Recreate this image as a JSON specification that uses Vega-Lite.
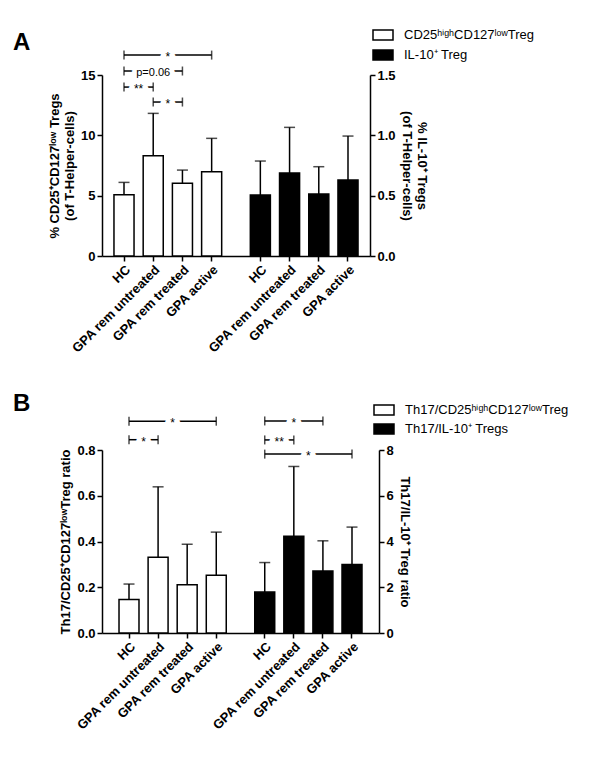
{
  "$schema": "https://vega.github.io/schema/vega-lite/v6.json",
  "padding": {"left": 13, "top": 24, "right": 5, "bottom": 5},
  "spacing": 194,
  "bounds": "flush",
  "resolve": {"scale": {"fill": "independent"}, "legend": {"fill": "independent"}},
  "config": {
    "font": "Liberation Sans",
    "view": {"stroke": null},
    "axis": {"grid": false, "domainColor": "black", "domainWidth": 1.5, "tickColor": "black", "tickWidth": 1.5, "tickSize": 5, "labelFont": "Liberation Sans", "labelFontSize": 13, "labelFontWeight": "bold", "labelColor": "black", "titleFont": "Liberation Sans", "titleFontSize": 13, "titleFontWeight": "bold", "titleColor": "black"},
    "axisX": {"labelAngle": -45, "labelAlign": "right", "labelBaseline": "top", "labelFontSize": 13, "labelPadding": 2, "labelExpr": "indexof(datum.value, '_') == 0 ? '' : split(datum.value, '|')[0]", "tickOpacity": {"condition": {"test": "indexof(datum.value, '_') == 0", "value": 0}, "value": 1}},
    "legend": {"padding": 0, "labelFont": "Liberation Sans", "labelFontSize": 13, "labelColor": "black", "labelOffset": 10, "labelLimit": 400, "rowPadding": 1, "symbolType": "M-1,-0.5H1V0.5H-1Z", "symbolSize": 400, "symbolStrokeColor": "black", "symbolStrokeWidth": 1.5},
    "title": {"font": "Liberation Sans", "fontSize": 24, "fontWeight": "bold", "color": "black"},
    "text": {"font": "Liberation Sans", "fontSize": 12, "baseline": "middle", "dy": 2},
    "bar": {"stroke": "black", "strokeWidth": 1.5, "width": {"band": 2.06}},
    "rule": {"color": "black", "strokeWidth": 1.5},
    "tick": {"color": "black", "thickness": 1.5}
  },
  "datasets": {
    "barsA": [
      {"side": "left", "series": "CD25ʰⁱᵍʰCD127ˡᵒʷTreg", "key": "HC|1", "mean": 5.08, "upper": 6.1},
      {"side": "left", "series": "CD25ʰⁱᵍʰCD127ˡᵒʷTreg", "key": "GPA rem untreated|1", "mean": 8.31, "upper": 11.82},
      {"side": "left", "series": "CD25ʰⁱᵍʰCD127ˡᵒʷTreg", "key": "GPA rem treated|1", "mean": 6.02, "upper": 7.12},
      {"side": "left", "series": "CD25ʰⁱᵍʰCD127ˡᵒʷTreg", "key": "GPA active|1", "mean": 6.99, "upper": 9.75},
      {"side": "right", "series": "IL-10⁺ Treg", "key": "HC|2", "mean": 0.505, "upper": 0.787},
      {"side": "right", "series": "IL-10⁺ Treg", "key": "GPA rem untreated|2", "mean": 0.688, "upper": 1.066},
      {"side": "right", "series": "IL-10⁺ Treg", "key": "GPA rem treated|2", "mean": 0.514, "upper": 0.74},
      {"side": "right", "series": "IL-10⁺ Treg", "key": "GPA active|2", "mean": 0.63, "upper": 0.994}
    ],
    "sigA": [
      {"start": "HC|1", "end": "GPA active|1", "level": 16.65, "label": "*"},
      {"start": "HC|1", "end": "GPA rem treated|1", "level": 15.33, "label": "p=0.06"},
      {"start": "HC|1", "end": "GPA rem untreated|1", "level": 14.0, "label": "**"},
      {"start": "GPA rem untreated|1", "end": "GPA rem treated|1", "level": 12.76, "label": "*"}
    ],
    "barsB": [
      {"side": "left", "series": "Th17/CD25ʰⁱᵍʰCD127ˡᵒʷTreg", "key": "HC|1", "mean": 0.146, "upper": 0.214},
      {"side": "left", "series": "Th17/CD25ʰⁱᵍʰCD127ˡᵒʷTreg", "key": "GPA rem untreated|1", "mean": 0.331, "upper": 0.639},
      {"side": "left", "series": "Th17/CD25ʰⁱᵍʰCD127ˡᵒʷTreg", "key": "GPA rem treated|1", "mean": 0.211, "upper": 0.388},
      {"side": "left", "series": "Th17/CD25ʰⁱᵍʰCD127ˡᵒʷTreg", "key": "GPA active|1", "mean": 0.252, "upper": 0.441},
      {"side": "right", "series": "Th17/IL-10⁺ Tregs", "key": "HC|2", "mean": 1.79, "upper": 3.08},
      {"side": "right", "series": "Th17/IL-10⁺ Tregs", "key": "GPA rem untreated|2", "mean": 4.23, "upper": 7.28},
      {"side": "right", "series": "Th17/IL-10⁺ Tregs", "key": "GPA rem treated|2", "mean": 2.71, "upper": 4.03},
      {"side": "right", "series": "Th17/IL-10⁺ Tregs", "key": "GPA active|2", "mean": 3.0, "upper": 4.63}
    ],
    "sigB": [
      {"start": "HC|1", "end": "GPA active|1", "level": 0.926, "label": "*"},
      {"start": "HC|1", "end": "GPA rem untreated|1", "level": 0.845, "label": "*"},
      {"start": "HC|2", "end": "GPA rem treated|2", "level": 0.927, "label": "*"},
      {"start": "HC|2", "end": "GPA rem untreated|2", "level": 0.844, "label": "**"},
      {"start": "HC|2", "end": "GPA active|2", "level": 0.782, "label": "*"}
    ]
  },
  "vconcat": [
    {
      "width": 268, "height": 181,
      "title": {"text": "A", "anchor": "start", "frame": "group", "dx": -89, "offset": -31},
      "resolve": {"scale": {"y": "independent"}},
      "layer": [
        {
          "layer": [
            {
              "data": {"name": "barsA"},
              "transform": [{"filter": "datum.side == 'left'"}],
              "mark": "bar",
              "encoding": {
                "x": {"field": "key", "type": "nominal", "title": null, "scale": {"type": "band", "domain": ["_l1","HC|1","_1","_2","GPA rem untreated|1","_3","_4","GPA rem treated|1","_5","_6","GPA active|1","_7","_8","_9","_10","HC|2","_11","_12","GPA rem untreated|2","_13","_14","GPA rem treated|2","_15","_16","GPA active|2","_r1"], "paddingInner": 0, "paddingOuter": 0.759}},
                "y": {"field": "mean", "type": "quantitative", "scale": {"domain": [0, 15], "nice": false},
                  "axis": {"values": [0, 5, 10, 15], "orient": "left", "title": ["% CD25⁺CD127ˡᵒʷ Tregs", "(of T-Helper-cells)"]}},
                "fill": {"field": "series", "type": "nominal", "scale": {"domain": ["CD25ʰⁱᵍʰCD127ˡᵒʷTreg", "IL-10⁺ Treg"], "range": ["white", "black"]},
                  "legend": {"orient": "none", "legendX": 270, "legendY": -51, "title": null}}
              }
            },
            {
              "data": {"name": "barsA"},
              "transform": [{"filter": "datum.side == 'left'"}],
              "mark": "rule",
              "encoding": {
                "x": {"field": "key", "type": "nominal", "title": null, "scale": {"type": "band", "domain": ["_l1","HC|1","_1","_2","GPA rem untreated|1","_3","_4","GPA rem treated|1","_5","_6","GPA active|1","_7","_8","_9","_10","HC|2","_11","_12","GPA rem untreated|2","_13","_14","GPA rem treated|2","_15","_16","GPA active|2","_r1"], "paddingInner": 0, "paddingOuter": 0.759}},
                "y": {"field": "mean", "type": "quantitative", "scale": {"domain": [0, 15], "nice": false}},
                "y2": {"field": "upper"}
              }
            },
            {
              "data": {"name": "barsA"},
              "transform": [{"filter": "datum.side == 'left'"}],
              "mark": {"type": "tick", "orient": "horizontal", "size": 11},
              "encoding": {
                "x": {"field": "key", "type": "nominal", "title": null, "scale": {"type": "band", "domain": ["_l1","HC|1","_1","_2","GPA rem untreated|1","_3","_4","GPA rem treated|1","_5","_6","GPA active|1","_7","_8","_9","_10","HC|2","_11","_12","GPA rem untreated|2","_13","_14","GPA rem treated|2","_15","_16","GPA active|2","_r1"], "paddingInner": 0, "paddingOuter": 0.759}},
                "y": {"field": "upper", "type": "quantitative", "scale": {"domain": [0, 15], "nice": false}}
              }
            },
            {
              "data": {"name": "sigA"},
              "mark": "rule",
              "encoding": {
                "x": {"field": "start", "type": "nominal", "title": null, "scale": {"type": "band", "domain": ["_l1","HC|1","_1","_2","GPA rem untreated|1","_3","_4","GPA rem treated|1","_5","_6","GPA active|1","_7","_8","_9","_10","HC|2","_11","_12","GPA rem untreated|2","_13","_14","GPA rem treated|2","_15","_16","GPA active|2","_r1"], "paddingInner": 0, "paddingOuter": 0.759}},
                "x2": {"field": "end"},
                "y": {"field": "level", "type": "quantitative", "scale": {"domain": [0, 15], "nice": false}}
              }
            },
            {
              "data": {"name": "sigA"},
              "mark": {"type": "tick", "orient": "vertical", "size": 9},
              "encoding": {
                "x": {"field": "start", "type": "nominal", "title": null, "scale": {"type": "band", "domain": ["_l1","HC|1","_1","_2","GPA rem untreated|1","_3","_4","GPA rem treated|1","_5","_6","GPA active|1","_7","_8","_9","_10","HC|2","_11","_12","GPA rem untreated|2","_13","_14","GPA rem treated|2","_15","_16","GPA active|2","_r1"], "paddingInner": 0, "paddingOuter": 0.759}},
                "y": {"field": "level", "type": "quantitative", "scale": {"domain": [0, 15], "nice": false}}
              }
            },
            {
              "data": {"name": "sigA"},
              "mark": {"type": "tick", "orient": "vertical", "size": 9},
              "encoding": {
                "x": {"field": "end", "type": "nominal", "title": null, "scale": {"type": "band", "domain": ["_l1","HC|1","_1","_2","GPA rem untreated|1","_3","_4","GPA rem treated|1","_5","_6","GPA active|1","_7","_8","_9","_10","HC|2","_11","_12","GPA rem untreated|2","_13","_14","GPA rem treated|2","_15","_16","GPA active|2","_r1"], "paddingInner": 0, "paddingOuter": 0.759}},
                "y": {"field": "level", "type": "quantitative", "scale": {"domain": [0, 15], "nice": false}}
              }
            },
            {
              "data": {"name": "sigA"},
              "transform": [{"filter": "indexof(['HC|1','GPA rem untreated|1','GPA rem treated|1','GPA active|1','HC|2','GPA rem untreated|2','GPA rem treated|2','GPA active|2'], datum.end) - indexof(['HC|1','GPA rem untreated|1','GPA rem treated|1','GPA active|1','HC|2','GPA rem untreated|2','GPA rem treated|2','GPA active|2'], datum.start) == 1"}],
              "layer": [
                {"mark": {"type": "text", "fill": "white", "stroke": "white", "strokeWidth": 9}},
                {"mark": {"type": "text", "fill": "black"}}
              ],
              "encoding": {
                "x": {"field": "start", "type": "nominal", "title": null, "bandPosition": 2.0, "scale": {"type": "band", "domain": ["_l1","HC|1","_1","_2","GPA rem untreated|1","_3","_4","GPA rem treated|1","_5","_6","GPA active|1","_7","_8","_9","_10","HC|2","_11","_12","GPA rem untreated|2","_13","_14","GPA rem treated|2","_15","_16","GPA active|2","_r1"], "paddingInner": 0, "paddingOuter": 0.759}},
                "y": {"field": "level", "type": "quantitative", "scale": {"domain": [0, 15], "nice": false}},
                "text": {"field": "label"}
              }
            },
            {
              "data": {"name": "sigA"},
              "transform": [{"filter": "indexof(['HC|1','GPA rem untreated|1','GPA rem treated|1','GPA active|1','HC|2','GPA rem untreated|2','GPA rem treated|2','GPA active|2'], datum.end) - indexof(['HC|1','GPA rem untreated|1','GPA rem treated|1','GPA active|1','HC|2','GPA rem untreated|2','GPA rem treated|2','GPA active|2'], datum.start) == 2"}],
              "layer": [
                {"mark": {"type": "text", "fill": "white", "stroke": "white", "strokeWidth": 9, "fontSize": 11}},
                {"mark": {"type": "text", "fill": "black", "fontSize": 11}}
              ],
              "encoding": {
                "x": {"field": "start", "type": "nominal", "title": null, "bandPosition": 3.5, "scale": {"type": "band", "domain": ["_l1","HC|1","_1","_2","GPA rem untreated|1","_3","_4","GPA rem treated|1","_5","_6","GPA active|1","_7","_8","_9","_10","HC|2","_11","_12","GPA rem untreated|2","_13","_14","GPA rem treated|2","_15","_16","GPA active|2","_r1"], "paddingInner": 0, "paddingOuter": 0.759}},
                "y": {"field": "level", "type": "quantitative", "scale": {"domain": [0, 15], "nice": false}},
                "text": {"field": "label"}
              }
            },
            {
              "data": {"name": "sigA"},
              "transform": [{"filter": "indexof(['HC|1','GPA rem untreated|1','GPA rem treated|1','GPA active|1','HC|2','GPA rem untreated|2','GPA rem treated|2','GPA active|2'], datum.end) - indexof(['HC|1','GPA rem untreated|1','GPA rem treated|1','GPA active|1','HC|2','GPA rem untreated|2','GPA rem treated|2','GPA active|2'], datum.start) == 3"}],
              "layer": [
                {"mark": {"type": "text", "fill": "white", "stroke": "white", "strokeWidth": 9}},
                {"mark": {"type": "text", "fill": "black"}}
              ],
              "encoding": {
                "x": {"field": "start", "type": "nominal", "title": null, "bandPosition": 5.0, "scale": {"type": "band", "domain": ["_l1","HC|1","_1","_2","GPA rem untreated|1","_3","_4","GPA rem treated|1","_5","_6","GPA active|1","_7","_8","_9","_10","HC|2","_11","_12","GPA rem untreated|2","_13","_14","GPA rem treated|2","_15","_16","GPA active|2","_r1"], "paddingInner": 0, "paddingOuter": 0.759}},
                "y": {"field": "level", "type": "quantitative", "scale": {"domain": [0, 15], "nice": false}},
                "text": {"field": "label"}
              }
            }
          ]
        },
        {
          "layer": [
            {
              "data": {"name": "barsA"},
              "transform": [{"filter": "datum.side == 'right'"}],
              "mark": "bar",
              "encoding": {
                "x": {"field": "key", "type": "nominal", "title": null, "scale": {"type": "band", "domain": ["_l1","HC|1","_1","_2","GPA rem untreated|1","_3","_4","GPA rem treated|1","_5","_6","GPA active|1","_7","_8","_9","_10","HC|2","_11","_12","GPA rem untreated|2","_13","_14","GPA rem treated|2","_15","_16","GPA active|2","_r1"], "paddingInner": 0, "paddingOuter": 0.759}},
                "y": {"field": "mean", "type": "quantitative", "scale": {"domain": [0, 1.5], "nice": false},
                  "axis": {"values": [0, 0.5, 1, 1.5], "format": ".1f", "orient": "right", "title": ["% IL-10⁺ Tregs", "(of T-Helper-cells)"]}},
                "fill": {"field": "series", "type": "nominal", "scale": {"domain": ["CD25ʰⁱᵍʰCD127ˡᵒʷTreg", "IL-10⁺ Treg"], "range": ["white", "black"]},
                  "legend": {"orient": "none", "legendX": 270, "legendY": -51, "title": null}}
              }
            },
            {
              "data": {"name": "barsA"},
              "transform": [{"filter": "datum.side == 'right'"}],
              "mark": "rule",
              "encoding": {
                "x": {"field": "key", "type": "nominal", "title": null, "scale": {"type": "band", "domain": ["_l1","HC|1","_1","_2","GPA rem untreated|1","_3","_4","GPA rem treated|1","_5","_6","GPA active|1","_7","_8","_9","_10","HC|2","_11","_12","GPA rem untreated|2","_13","_14","GPA rem treated|2","_15","_16","GPA active|2","_r1"], "paddingInner": 0, "paddingOuter": 0.759}},
                "y": {"field": "mean", "type": "quantitative", "scale": {"domain": [0, 1.5], "nice": false}},
                "y2": {"field": "upper"}
              }
            },
            {
              "data": {"name": "barsA"},
              "transform": [{"filter": "datum.side == 'right'"}],
              "mark": {"type": "tick", "orient": "horizontal", "size": 11},
              "encoding": {
                "x": {"field": "key", "type": "nominal", "title": null, "scale": {"type": "band", "domain": ["_l1","HC|1","_1","_2","GPA rem untreated|1","_3","_4","GPA rem treated|1","_5","_6","GPA active|1","_7","_8","_9","_10","HC|2","_11","_12","GPA rem untreated|2","_13","_14","GPA rem treated|2","_15","_16","GPA active|2","_r1"], "paddingInner": 0, "paddingOuter": 0.759}},
                "y": {"field": "upper", "type": "quantitative", "scale": {"domain": [0, 1.5], "nice": false}}
              }
            }
          ]
        }
      ]
    },
    {
      "width": 277, "height": 183,
      "title": {"text": "B", "anchor": "start", "frame": "group", "dx": -89, "offset": -17},
      "resolve": {"scale": {"y": "independent"}},
      "layer": [
        {
          "layer": [
            {
              "data": {"name": "barsB"},
              "transform": [{"filter": "datum.side == 'left'"}],
              "mark": "bar",
              "encoding": {
                "x": {"field": "key", "type": "nominal", "title": null, "scale": {"type": "band", "domain": ["_l1","_l2","HC|1","_1","_2","GPA rem untreated|1","_3","_4","GPA rem treated|1","_5","_6","GPA active|1","_7","_8","_9","_10","HC|2","_11","_12","GPA rem untreated|2","_13","_14","GPA rem treated|2","_15","_16","GPA active|2","_r1","_r2"], "paddingInner": 0, "paddingOuter": 0.285}},
                "y": {"field": "mean", "type": "quantitative", "scale": {"domain": [0, 0.8], "nice": false},
                  "axis": {"values": [0, 0.2, 0.4, 0.6, 0.8], "format": ".1f", "orient": "left", "title": "Th17/CD25⁺CD127ˡᵒʷTreg ratio"}},
                "fill": {"field": "series", "type": "nominal", "scale": {"domain": ["Th17/CD25ʰⁱᵍʰCD127ˡᵒʷTreg", "Th17/IL-10⁺ Tregs"], "range": ["white", "black"]},
                  "legend": {"orient": "none", "legendX": 271, "legendY": -51, "title": null, "rowPadding": -2}}
              }
            },
            {
              "data": {"name": "barsB"},
              "transform": [{"filter": "datum.side == 'left'"}],
              "mark": "rule",
              "encoding": {
                "x": {"field": "key", "type": "nominal", "title": null, "scale": {"type": "band", "domain": ["_l1","_l2","HC|1","_1","_2","GPA rem untreated|1","_3","_4","GPA rem treated|1","_5","_6","GPA active|1","_7","_8","_9","_10","HC|2","_11","_12","GPA rem untreated|2","_13","_14","GPA rem treated|2","_15","_16","GPA active|2","_r1","_r2"], "paddingInner": 0, "paddingOuter": 0.285}},
                "y": {"field": "mean", "type": "quantitative", "scale": {"domain": [0, 0.8], "nice": false}},
                "y2": {"field": "upper"}
              }
            },
            {
              "data": {"name": "barsB"},
              "transform": [{"filter": "datum.side == 'left'"}],
              "mark": {"type": "tick", "orient": "horizontal", "size": 11},
              "encoding": {
                "x": {"field": "key", "type": "nominal", "title": null, "scale": {"type": "band", "domain": ["_l1","_l2","HC|1","_1","_2","GPA rem untreated|1","_3","_4","GPA rem treated|1","_5","_6","GPA active|1","_7","_8","_9","_10","HC|2","_11","_12","GPA rem untreated|2","_13","_14","GPA rem treated|2","_15","_16","GPA active|2","_r1","_r2"], "paddingInner": 0, "paddingOuter": 0.285}},
                "y": {"field": "upper", "type": "quantitative", "scale": {"domain": [0, 0.8], "nice": false}}
              }
            },
            {
              "data": {"name": "sigB"},
              "mark": "rule",
              "encoding": {
                "x": {"field": "start", "type": "nominal", "title": null, "scale": {"type": "band", "domain": ["_l1","_l2","HC|1","_1","_2","GPA rem untreated|1","_3","_4","GPA rem treated|1","_5","_6","GPA active|1","_7","_8","_9","_10","HC|2","_11","_12","GPA rem untreated|2","_13","_14","GPA rem treated|2","_15","_16","GPA active|2","_r1","_r2"], "paddingInner": 0, "paddingOuter": 0.285}},
                "x2": {"field": "end"},
                "y": {"field": "level", "type": "quantitative", "scale": {"domain": [0, 0.8], "nice": false}}
              }
            },
            {
              "data": {"name": "sigB"},
              "mark": {"type": "tick", "orient": "vertical", "size": 9},
              "encoding": {
                "x": {"field": "start", "type": "nominal", "title": null, "scale": {"type": "band", "domain": ["_l1","_l2","HC|1","_1","_2","GPA rem untreated|1","_3","_4","GPA rem treated|1","_5","_6","GPA active|1","_7","_8","_9","_10","HC|2","_11","_12","GPA rem untreated|2","_13","_14","GPA rem treated|2","_15","_16","GPA active|2","_r1","_r2"], "paddingInner": 0, "paddingOuter": 0.285}},
                "y": {"field": "level", "type": "quantitative", "scale": {"domain": [0, 0.8], "nice": false}}
              }
            },
            {
              "data": {"name": "sigB"},
              "mark": {"type": "tick", "orient": "vertical", "size": 9},
              "encoding": {
                "x": {"field": "end", "type": "nominal", "title": null, "scale": {"type": "band", "domain": ["_l1","_l2","HC|1","_1","_2","GPA rem untreated|1","_3","_4","GPA rem treated|1","_5","_6","GPA active|1","_7","_8","_9","_10","HC|2","_11","_12","GPA rem untreated|2","_13","_14","GPA rem treated|2","_15","_16","GPA active|2","_r1","_r2"], "paddingInner": 0, "paddingOuter": 0.285}},
                "y": {"field": "level", "type": "quantitative", "scale": {"domain": [0, 0.8], "nice": false}}
              }
            },
            {
              "data": {"name": "sigB"},
              "transform": [{"filter": "indexof(['HC|1','GPA rem untreated|1','GPA rem treated|1','GPA active|1','HC|2','GPA rem untreated|2','GPA rem treated|2','GPA active|2'], datum.end) - indexof(['HC|1','GPA rem untreated|1','GPA rem treated|1','GPA active|1','HC|2','GPA rem untreated|2','GPA rem treated|2','GPA active|2'], datum.start) == 1"}],
              "layer": [
                {"mark": {"type": "text", "fill": "white", "stroke": "white", "strokeWidth": 9}},
                {"mark": {"type": "text", "fill": "black"}}
              ],
              "encoding": {
                "x": {"field": "start", "type": "nominal", "title": null, "bandPosition": 2.0, "scale": {"type": "band", "domain": ["_l1","_l2","HC|1","_1","_2","GPA rem untreated|1","_3","_4","GPA rem treated|1","_5","_6","GPA active|1","_7","_8","_9","_10","HC|2","_11","_12","GPA rem untreated|2","_13","_14","GPA rem treated|2","_15","_16","GPA active|2","_r1","_r2"], "paddingInner": 0, "paddingOuter": 0.285}},
                "y": {"field": "level", "type": "quantitative", "scale": {"domain": [0, 0.8], "nice": false}},
                "text": {"field": "label"}
              }
            },
            {
              "data": {"name": "sigB"},
              "transform": [{"filter": "indexof(['HC|1','GPA rem untreated|1','GPA rem treated|1','GPA active|1','HC|2','GPA rem untreated|2','GPA rem treated|2','GPA active|2'], datum.end) - indexof(['HC|1','GPA rem untreated|1','GPA rem treated|1','GPA active|1','HC|2','GPA rem untreated|2','GPA rem treated|2','GPA active|2'], datum.start) == 2"}],
              "layer": [
                {"mark": {"type": "text", "fill": "white", "stroke": "white", "strokeWidth": 9}},
                {"mark": {"type": "text", "fill": "black"}}
              ],
              "encoding": {
                "x": {"field": "start", "type": "nominal", "title": null, "bandPosition": 3.5, "scale": {"type": "band", "domain": ["_l1","_l2","HC|1","_1","_2","GPA rem untreated|1","_3","_4","GPA rem treated|1","_5","_6","GPA active|1","_7","_8","_9","_10","HC|2","_11","_12","GPA rem untreated|2","_13","_14","GPA rem treated|2","_15","_16","GPA active|2","_r1","_r2"], "paddingInner": 0, "paddingOuter": 0.285}},
                "y": {"field": "level", "type": "quantitative", "scale": {"domain": [0, 0.8], "nice": false}},
                "text": {"field": "label"}
              }
            },
            {
              "data": {"name": "sigB"},
              "transform": [{"filter": "indexof(['HC|1','GPA rem untreated|1','GPA rem treated|1','GPA active|1','HC|2','GPA rem untreated|2','GPA rem treated|2','GPA active|2'], datum.end) - indexof(['HC|1','GPA rem untreated|1','GPA rem treated|1','GPA active|1','HC|2','GPA rem untreated|2','GPA rem treated|2','GPA active|2'], datum.start) == 3"}],
              "layer": [
                {"mark": {"type": "text", "fill": "white", "stroke": "white", "strokeWidth": 9}},
                {"mark": {"type": "text", "fill": "black"}}
              ],
              "encoding": {
                "x": {"field": "start", "type": "nominal", "title": null, "bandPosition": 5.0, "scale": {"type": "band", "domain": ["_l1","_l2","HC|1","_1","_2","GPA rem untreated|1","_3","_4","GPA rem treated|1","_5","_6","GPA active|1","_7","_8","_9","_10","HC|2","_11","_12","GPA rem untreated|2","_13","_14","GPA rem treated|2","_15","_16","GPA active|2","_r1","_r2"], "paddingInner": 0, "paddingOuter": 0.285}},
                "y": {"field": "level", "type": "quantitative", "scale": {"domain": [0, 0.8], "nice": false}},
                "text": {"field": "label"}
              }
            }
          ]
        },
        {
          "layer": [
            {
              "data": {"name": "barsB"},
              "transform": [{"filter": "datum.side == 'right'"}],
              "mark": "bar",
              "encoding": {
                "x": {"field": "key", "type": "nominal", "title": null, "scale": {"type": "band", "domain": ["_l1","_l2","HC|1","_1","_2","GPA rem untreated|1","_3","_4","GPA rem treated|1","_5","_6","GPA active|1","_7","_8","_9","_10","HC|2","_11","_12","GPA rem untreated|2","_13","_14","GPA rem treated|2","_15","_16","GPA active|2","_r1","_r2"], "paddingInner": 0, "paddingOuter": 0.285}},
                "y": {"field": "mean", "type": "quantitative", "scale": {"domain": [0, 8], "nice": false},
                  "axis": {"values": [0, 2, 4, 6, 8], "orient": "right", "title": "Th17/IL-10⁺ Treg ratio"}},
                "fill": {"field": "series", "type": "nominal", "scale": {"domain": ["Th17/CD25ʰⁱᵍʰCD127ˡᵒʷTreg", "Th17/IL-10⁺ Tregs"], "range": ["white", "black"]},
                  "legend": {"orient": "none", "legendX": 271, "legendY": -51, "title": null, "rowPadding": -2}}
              }
            },
            {
              "data": {"name": "barsB"},
              "transform": [{"filter": "datum.side == 'right'"}],
              "mark": "rule",
              "encoding": {
                "x": {"field": "key", "type": "nominal", "title": null, "scale": {"type": "band", "domain": ["_l1","_l2","HC|1","_1","_2","GPA rem untreated|1","_3","_4","GPA rem treated|1","_5","_6","GPA active|1","_7","_8","_9","_10","HC|2","_11","_12","GPA rem untreated|2","_13","_14","GPA rem treated|2","_15","_16","GPA active|2","_r1","_r2"], "paddingInner": 0, "paddingOuter": 0.285}},
                "y": {"field": "mean", "type": "quantitative", "scale": {"domain": [0, 8], "nice": false}},
                "y2": {"field": "upper"}
              }
            },
            {
              "data": {"name": "barsB"},
              "transform": [{"filter": "datum.side == 'right'"}],
              "mark": {"type": "tick", "orient": "horizontal", "size": 11},
              "encoding": {
                "x": {"field": "key", "type": "nominal", "title": null, "scale": {"type": "band", "domain": ["_l1","_l2","HC|1","_1","_2","GPA rem untreated|1","_3","_4","GPA rem treated|1","_5","_6","GPA active|1","_7","_8","_9","_10","HC|2","_11","_12","GPA rem untreated|2","_13","_14","GPA rem treated|2","_15","_16","GPA active|2","_r1","_r2"], "paddingInner": 0, "paddingOuter": 0.285}},
                "y": {"field": "upper", "type": "quantitative", "scale": {"domain": [0, 8], "nice": false}}
              }
            }
          ]
        }
      ]
    }
  ]
}
